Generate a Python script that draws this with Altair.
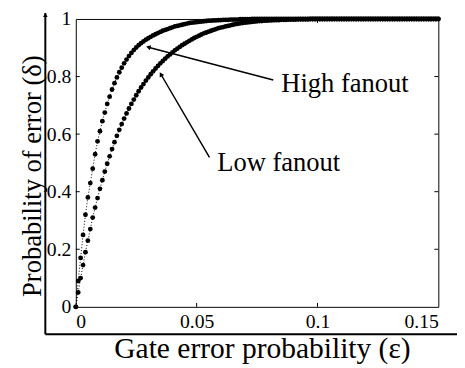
import altair as alt
import pandas as pd
import numpy as np

# ---- data (delta at eps = 0, 0.001, ..., 0.150) ----
high_delta = [
    0.0, 0.09, 0.17, 0.25, 0.32, 0.38, 0.43, 0.48, 0.53, 0.575,
    0.61, 0.645, 0.675, 0.705, 0.73, 0.755, 0.777, 0.797, 0.815, 0.831,
    0.846, 0.859, 0.871, 0.882, 0.892, 0.901, 0.909, 0.916, 0.922, 0.928,
    0.933, 0.938, 0.943, 0.947, 0.951, 0.955, 0.959, 0.962, 0.965, 0.968,
    0.971, 0.974, 0.976, 0.978, 0.980, 0.982, 0.984, 0.986, 0.987, 0.988,
    0.989, 0.990, 0.991, 0.992, 0.993, 0.994, 0.994, 0.995, 0.995, 0.996,
    0.996, 0.997, 0.997, 0.997, 0.998, 0.998, 0.998, 0.998, 0.999, 0.999,
    0.999, 0.999, 0.999, 1.0, 1.0, 1.0, 1.0, 1.0, 1.0, 1.0,
    1.0, 1.0, 1.0, 1.0, 1.0, 1.0, 1.0, 1.0, 1.0, 1.0,
    1.0, 1.0, 1.0, 1.0, 1.0, 1.0, 1.0, 1.0, 1.0, 1.0,
    1.0, 1.0, 1.0, 1.0, 1.0, 1.0, 1.0, 1.0, 1.0, 1.0,
    1.0, 1.0, 1.0, 1.0, 1.0, 1.0, 1.0, 1.0, 1.0, 1.0,
    1.0, 1.0, 1.0, 1.0, 1.0, 1.0, 1.0, 1.0, 1.0, 1.0,
    1.0, 1.0, 1.0, 1.0, 1.0, 1.0, 1.0, 1.0, 1.0, 1.0,
    1.0, 1.0, 1.0, 1.0, 1.0, 1.0, 1.0, 1.0, 1.0, 1.0,
    1.0,
]
low_delta = [
    0.0, 0.05, 0.10, 0.145, 0.19, 0.23, 0.27, 0.31, 0.345, 0.378,
    0.41, 0.44, 0.47, 0.497, 0.523, 0.548, 0.572, 0.594, 0.615, 0.635,
    0.654, 0.672, 0.689, 0.705, 0.72, 0.735, 0.749, 0.762, 0.774, 0.786,
    0.797, 0.808, 0.818, 0.828, 0.837, 0.846, 0.854, 0.862, 0.870, 0.877,
    0.884, 0.891, 0.897, 0.903, 0.909, 0.914, 0.919, 0.924, 0.929, 0.934,
    0.938, 0.942, 0.946, 0.950, 0.953, 0.956, 0.959, 0.962, 0.965, 0.968,
    0.970, 0.972, 0.974, 0.976, 0.978, 0.980, 0.982, 0.983, 0.985, 0.986,
    0.987, 0.988, 0.989, 0.990, 0.991, 0.992, 0.993, 0.993, 0.994, 0.994,
    0.995, 0.995, 0.996, 0.996, 0.996, 0.997, 0.997, 0.997, 0.998, 0.998,
    0.998, 0.998, 0.999, 0.999, 0.999, 0.999, 0.999, 1.0, 1.0, 1.0,
    1.0, 1.0, 1.0, 1.0, 1.0, 1.0, 1.0, 1.0, 1.0, 1.0,
    1.0, 1.0, 1.0, 1.0, 1.0, 1.0, 1.0, 1.0, 1.0, 1.0,
    1.0, 1.0, 1.0, 1.0, 1.0, 1.0, 1.0, 1.0, 1.0, 1.0,
    1.0, 1.0, 1.0, 1.0, 1.0, 1.0, 1.0, 1.0, 1.0, 1.0,
    1.0, 1.0, 1.0, 1.0, 1.0, 1.0, 1.0, 1.0, 1.0, 1.0,
    1.0,
]
eps_grid = [round(i * 0.001, 3) for i in range(151)]

x_ticks = [0, 0.05, 0.1, 0.15]
y_ticks = [0, 0.2, 0.4, 0.6, 0.8, 1]
x_inner_ticks = [0.05, 0.1]
y_inner_ticks = [0.2, 0.4, 0.6, 0.8]

labels = ["High fanout", "Low fanout"]
label_x = [0.0850, 0.0585]
label_y = [0.775, 0.498]
arrow_x1 = [0.0817, 0.0553]
arrow_y1 = [0.788, 0.519]
arrow_x2 = [0.0300, 0.0352]
arrow_y2 = [0.902, 0.808]

# ---- layout ----
W, H = 369, 293
FONT = "Liberation Serif"

curves = pd.DataFrame({
    "eps": eps_grid + eps_grid,
    "delta": high_delta + low_delta,
    "series": ["High fanout"] * 151 + ["Low fanout"] * 151,
})

arrows = pd.DataFrame({"eps": arrow_x1, "delta": arrow_y1, "x2": arrow_x2, "y2": arrow_y2})
dxp = (arrows.x2 - arrows.eps) / 0.15 * W
dyp = -(arrows.y2 - arrows.delta) * H
arrows["ang"] = (np.degrees(np.arctan2(dxp, -dyp)) % 360).round(1)

texts = pd.DataFrame({"t": labels, "eps": label_x, "delta": label_y})
one = pd.DataFrame({"a": [0]})

xs = alt.Scale(domain=[0, 0.15], nice=False, zero=False)
ys = alt.Scale(domain=[0, 1], nice=False, zero=False)

x_axis = alt.Axis(
    values=x_ticks, labelExpr="format(datum.value, '~g')",
    title="Gate error probability (ε)", ticks=False, domain=False, grid=False,
    labelFont=FONT, labelFontSize=20, labelColor="black", labelPadding=5,
    titleFont=FONT, titleFontSize=30, titleFontWeight="normal", titleColor="black",
    titleX=W / 2 + 5, titleY=52, titleBaseline="alphabetic", titleAlign="center",
)
y_axis = alt.Axis(
    values=y_ticks, labelExpr="format(datum.value, '~g')",
    title="Probability of error (δ)", ticks=False, domain=False, grid=False,
    labelFont=FONT, labelFontSize=20, labelColor="black", labelPadding=5,
    titleFont=FONT, titleFontSize=27, titleFontWeight="normal", titleColor="black",
    titleX=-36, titleY=H / 2 + 13, titleAngle=270, titleBaseline="alphabetic", titleAlign="center",
)

def X(field):
    return alt.X(field, scale=xs, axis=x_axis)

def Y(field):
    return alt.Y(field, scale=ys, axis=y_axis)

base = alt.Chart(curves).encode(x=X("eps:Q"), y=Y("delta:Q"), detail="series:N")
lines = base.mark_line(color="black", strokeWidth=1, strokeDash=[1, 2])
dots = base.mark_circle(color="black", size=24, opacity=1)

arrow_lines = alt.Chart(arrows).mark_rule(color="black", strokeWidth=1.5).encode(
    x=X("eps:Q"), y=Y("delta:Q"), x2="x2:Q", y2="y2:Q",
)
arrow_heads = alt.Chart(arrows).mark_point(
    shape="triangle-up", filled=True, color="black", size=28, opacity=1
).encode(
    x=alt.X("x2:Q", scale=xs, axis=x_axis), y=alt.Y("y2:Q", scale=ys, axis=y_axis),
    angle=alt.Angle("ang:Q", scale=None),
)
label_marks = alt.Chart(texts).mark_text(
    align="left", baseline="middle", font=FONT, fontSize=27, color="black"
).encode(x=X("eps:Q"), y=Y("delta:Q"), text="t:N")

xt = pd.DataFrame({"eps": x_inner_ticks})
yt = pd.DataFrame({"delta": y_inner_ticks})
tick_bottom = alt.Chart(xt).mark_rule(color="black", strokeWidth=1).encode(
    x=X("eps:Q"), y=alt.value(H), y2=alt.value(H - 4))
tick_top = alt.Chart(xt).mark_rule(color="black", strokeWidth=1).encode(
    x=X("eps:Q"), y=alt.value(0), y2=alt.value(4))
tick_left = alt.Chart(yt).mark_rule(color="black", strokeWidth=1).encode(
    y=Y("delta:Q"), x=alt.value(0), x2=alt.value(4))
tick_right = alt.Chart(yt).mark_rule(color="black", strokeWidth=1).encode(
    y=Y("delta:Q"), x=alt.value(W), x2=alt.value(W - 4))

outer_v = alt.Chart(one).mark_rule(color="black", strokeWidth=2).encode(
    x=alt.value(-31), y=alt.value(-6), y2=alt.value(H + 28))
outer_h = alt.Chart(one).mark_rule(color="black", strokeWidth=2).encode(
    x=alt.value(-31), x2=alt.value(W + 20), y=alt.value(H + 28))
outer_arrow = alt.Chart(one).mark_point(
    shape="triangle-up", filled=True, color="black", size=22, opacity=1
).encode(x=alt.value(-31), y=alt.value(-4))

chart = alt.layer(
    lines, dots, arrow_lines, arrow_heads, label_marks,
    tick_bottom, tick_top, tick_left, tick_right, outer_v, outer_h, outer_arrow,
).properties(
    width=W, height=H,
    autosize=alt.AutoSizeParams(type="none"),
    padding={"left": 69, "top": 8, "right": 19, "bottom": 55},
    background="white",
).configure_view(stroke="black", strokeWidth=1)

chart.save("out.html", embed_options={"renderer": "svg", "actions": False})
